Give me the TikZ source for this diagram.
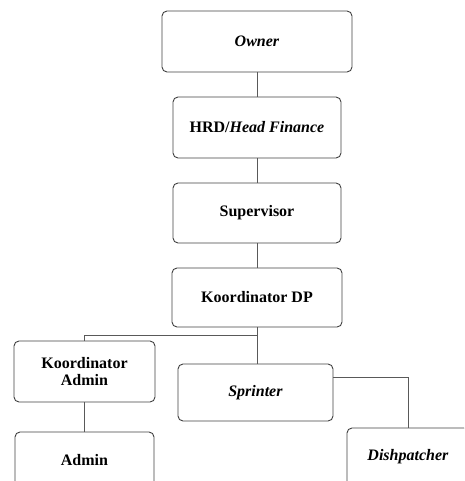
\documentclass[tikz,border=0pt]{standalone}
\usepackage{fontspec}
\setmainfont{Liberation Serif}
\begin{document}
\begin{tikzpicture}[x=1pt,y=-1pt,
  box/.style={draw=black!75, line width=0.9pt, rounded corners=5pt, align=center,
    font=\fontsize{16}{17}\selectfont\bfseries, inner sep=0pt},
  link/.style={draw=black!65, line width=0.8pt}]
\useasboundingbox (0,0) rectangle (464,481);
\clip (0,0) rectangle (464,481);
\node[box, minimum width=190pt, minimum height=61pt] (own) at (257,41.5) {\textit{Owner}};
\node[box, minimum width=168pt, minimum height=61pt] (hrd) at (257,127.5) {HRD/\textit{Head Finance}};
\node[box, minimum width=168pt, minimum height=60pt] (sup) at (257,213) {Supervisor};
\node[box, minimum width=170pt, minimum height=59pt] (kdp) at (257,297.5) {Koordinator DP};
\node[box, minimum width=141pt, minimum height=61pt] (kad) at (84.5,371.5) {Koordinator\\Admin};
\node[box, minimum width=155pt, minimum height=57pt] (spr) at (255.5,392.5) {\textit{Sprinter}};
\node[box, minimum width=139pt, minimum height=57pt] (adm) at (84.5,460.5) {Admin};
\node[box, minimum width=122pt, minimum height=58pt] (dis) at (408,457) {\textit{Dishpatcher}};
\coordinate (j) at (257,335);
\coordinate (s) at (333,377);
\draw[link] (own) -- (hrd);
\draw[link] (hrd) -- (sup);
\draw[link] (sup) -- (kdp);
\draw[link] (kdp.south) -- (j) -| (kad.north);
\draw[link] (j) -- (j |- spr.north);
\draw[link] (kad) -- (adm);
\draw[link] (s) -| (dis.north);
\end{tikzpicture}
\end{document}
